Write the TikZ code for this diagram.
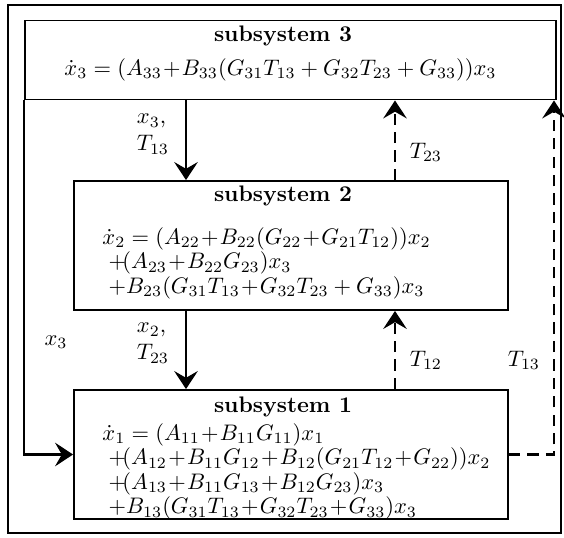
\documentclass[tikz,border=0pt]{standalone}
\usetikzlibrary{arrows.meta}

\begin{document}
\begin{tikzpicture}[x=0.445pt, y=-0.445pt,
        sysbox/.style={draw, line width=0.85pt, inner sep=0pt},
        title/.style={font=\bfseries, inner sep=0pt},
        eqn/.style={align=left, inner sep=0pt, font=\fontsize{10}{10.9}\selectfont},
        lbl/.style={inner sep=0pt},
        conn/.style={line width=1pt, -{Stealth[length=8pt, width=10.5pt, inset=3pt]}},
        trans/.style={conn, dash pattern=on 5pt off 3.2pt}]
        \useasboundingbox (0,0) rectangle (564,537);
        % Rahmen
        \draw[line width=0.85pt] (8,5) rectangle (561,533);

        % Teilsysteme
        \node[sysbox, minimum width=531*0.445pt, minimum height=79*0.445pt] (s3) at (290.5,60) {};
        \node[sysbox, minimum width=434*0.445pt, minimum height=129*0.445pt] (s2) at (291,245.5) {};
        \node[sysbox, minimum width=434*0.445pt, minimum height=129*0.445pt] (s1) at (291,454.5) {};

        % Texte in den Kaesten
        \node[title] (t3) at (283,36) {subsystem 3};
        \node[eqn] (e3) at (280.5,70)
            {$\dot{x}_3 = (A_{33}\!+\!B_{33}(G_{31}T_{13} + G_{32}T_{23} + G_{33}))x_3$};

        \node[title] (t2) at (283,196) {subsystem 2};
        \node[eqn, anchor=north west] (e2) at (102,227)
            {$\dot{x}_2 = (A_{22}\!+\!B_{22}(G_{22}\!+\!G_{21}T_{12}))x_2$\\
             $\;{+}\!(A_{23}\!+\!B_{22}G_{23})x_3$\\
             $\;{+}B_{23}(G_{31}T_{13}\!+\!G_{32}T_{23} + G_{33})x_3$};

        \node[title] (t1) at (283,407) {subsystem 1};
        \node[eqn, anchor=north west] (e1) at (102,423)
            {$\dot{x}_1 = (A_{11}\!+\!B_{11}G_{11})x_1$\\
             $\;{+}\!(A_{12}\!+\!B_{11}G_{12}\!+\!B_{12}(G_{21}T_{12}\!+\!G_{22}))x_2$\\
             $\;{+}\!(A_{13}\!+\!B_{11}G_{13}\!+\!B_{12}G_{23})x_3$\\
             $\;{+}B_{13}(G_{31}T_{13}\!+\!G_{32}T_{23}\!+\!G_{33})x_3$};

        % Hilfspunkte fuer die Verbindungen
        \coordinate (down) at (186,0);
        \coordinate (up) at (395,0);
        \coordinate (back) at (554,0);

        % Verbindungen
        \draw[conn] (s3.south -| down) -- (s2.north -| down);
        \draw[conn] (s2.south -| down) -- (s1.north -| down);
        \draw[trans] (s2.north -| up) -- (s3.south -| up);
        \draw[trans] (s1.north -| up) -- (s2.south -| up);
        \draw[trans] (s1.east) -| (s3.south -| back);
        \draw[conn] (s3.south west) |- (s1.west);

        % Beschriftungen
        \node[lbl, align=left] (l32) at (153,134) {$x_3$,\\$T_{13}$};
        \node[lbl, align=left] (l21) at (153,343) {$x_2$,\\$T_{23}$};
        \node[lbl] (l23) at (426,152) {$T_{23}$};
        \node[lbl] (l12) at (426,360) {$T_{12}$};
        \node[lbl] (l13) at (524,360) {$T_{13}$};
        \node[lbl] (l31) at (56,342) {$x_3$};
\end{tikzpicture}
\end{document}
